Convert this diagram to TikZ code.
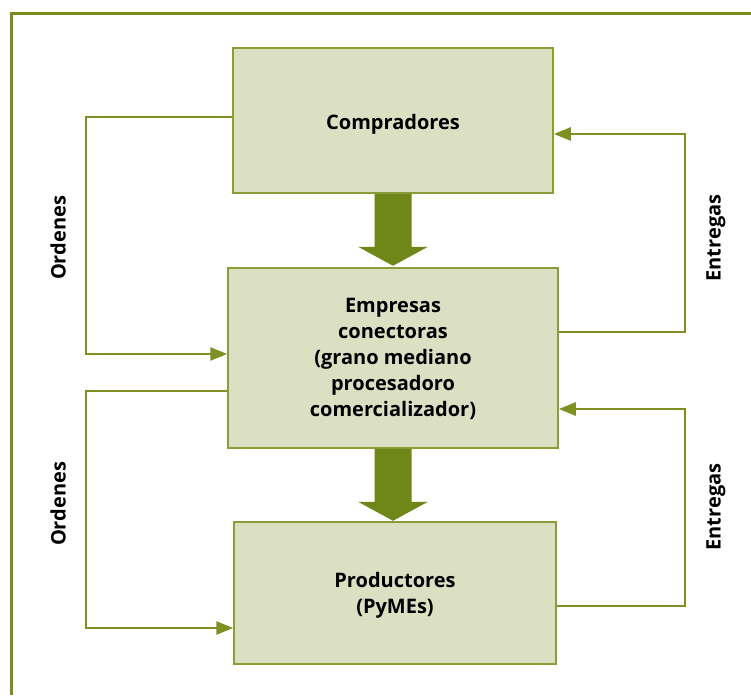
\documentclass[tikz,border=0pt]{standalone}
\usepackage{fontspec}
\setmainfont{Open Sans}
\usetikzlibrary{arrows.meta}
\definecolor{frameol}{HTML}{7A8C1E}
\definecolor{lineol}{HTML}{7D9022}
\definecolor{arrowol}{HTML}{6F8618}
\definecolor{boxfill}{HTML}{DCE0C3}
\definecolor{boxline}{HTML}{8C9C38}
\tikzset{
  box/.style={draw=boxline, line width=1.5pt, fill=boxfill, inner sep=0pt},
  boxtext/.style={align=center, font=\bfseries\fontsize{20}{26}\selectfont, inner sep=0pt},
  conn/.style={draw=lineol, line width=2.5pt},
  conntip/.style={conn, -{Triangle[length=17pt,width=13pt]}},
  bigarrow/.style={fill=arrowol},
  sidelabel/.style={rotate=90, font=\bfseries\fontsize{20}{24}\selectfont},
  frameline/.style={draw=frameol, line width=3pt}
}
\begin{document}
\begin{tikzpicture}[x=1pt,y=-1pt]
\useasboundingbox (0,0) rectangle (751,695);
\fill[white] (0,0) rectangle (751,695);
\draw[frameline] (751,14) -- (11,14) -- (11,695);

\node[box, minimum width=320pt, minimum height=145pt] (comp) at (393,120.5) {};
\node[box, minimum width=330pt, minimum height=180pt] (emp) at (393,358) {};
\node[box, minimum width=322pt, minimum height=142pt] (prod) at (395,593) {};
\node[boxtext] (compt) at ([yshift=-4pt]comp.center) {Compradores};
\node[boxtext] (empt) at ([yshift=-1pt]emp.center) {Empresas\\conectoras\\(grano mediano\\procesadoro\\comercializador)};
\node[boxtext] (prodt) at ([yshift=-2pt]prod.center) {Productores\\(PyMEs)};

% big arrows
\fill[bigarrow] (comp.south) ++(-18.5,0) -- ++(0,53) -- ++(-16.5,0) -- ++(35,19) -- ++(35,-19) -- ++(-16.5,0) -- ++(0,-53) -- cycle;
\fill[bigarrow] (emp.south) ++(-18.5,0) -- ++(0,53) -- ++(-16.5,0) -- ++(35,19) -- ++(35,-19) -- ++(-16.5,0) -- ++(0,-53) -- cycle;

% corners
\coordinate (c1) at (86,117);
\coordinate (c2) at (86,354);
\coordinate (c3) at (86,391);
\coordinate (c4) at (86,628);
\coordinate (c5) at (685,332);
\coordinate (c6) at (685,134);
\coordinate (c7) at (685,606);
\coordinate (c8) at (685,409);

\draw[conntip] (comp.west |- c1) -- (c1) -- (c2) -- (emp.west |- c2);
\draw[conntip] (emp.west |- c3) -- (c3) -- (c4) -- (prod.west |- c4);
\draw[conntip] (emp.east |- c5) -- (c5) -- (c6) -- (comp.east |- c6);
\draw[conntip] (prod.east |- c7) -- (c7) -- (c8) -- (emp.east |- c8);

\node[sidelabel] (l1) at (58,238) {Ordenes};
\node[sidelabel] (l2) at (58,504) {Ordenes};
\node[sidelabel] (l3) at (716,238) {Entregas};
\node[sidelabel] (l4) at (716,507) {Entregas};
\end{tikzpicture}
\end{document}
